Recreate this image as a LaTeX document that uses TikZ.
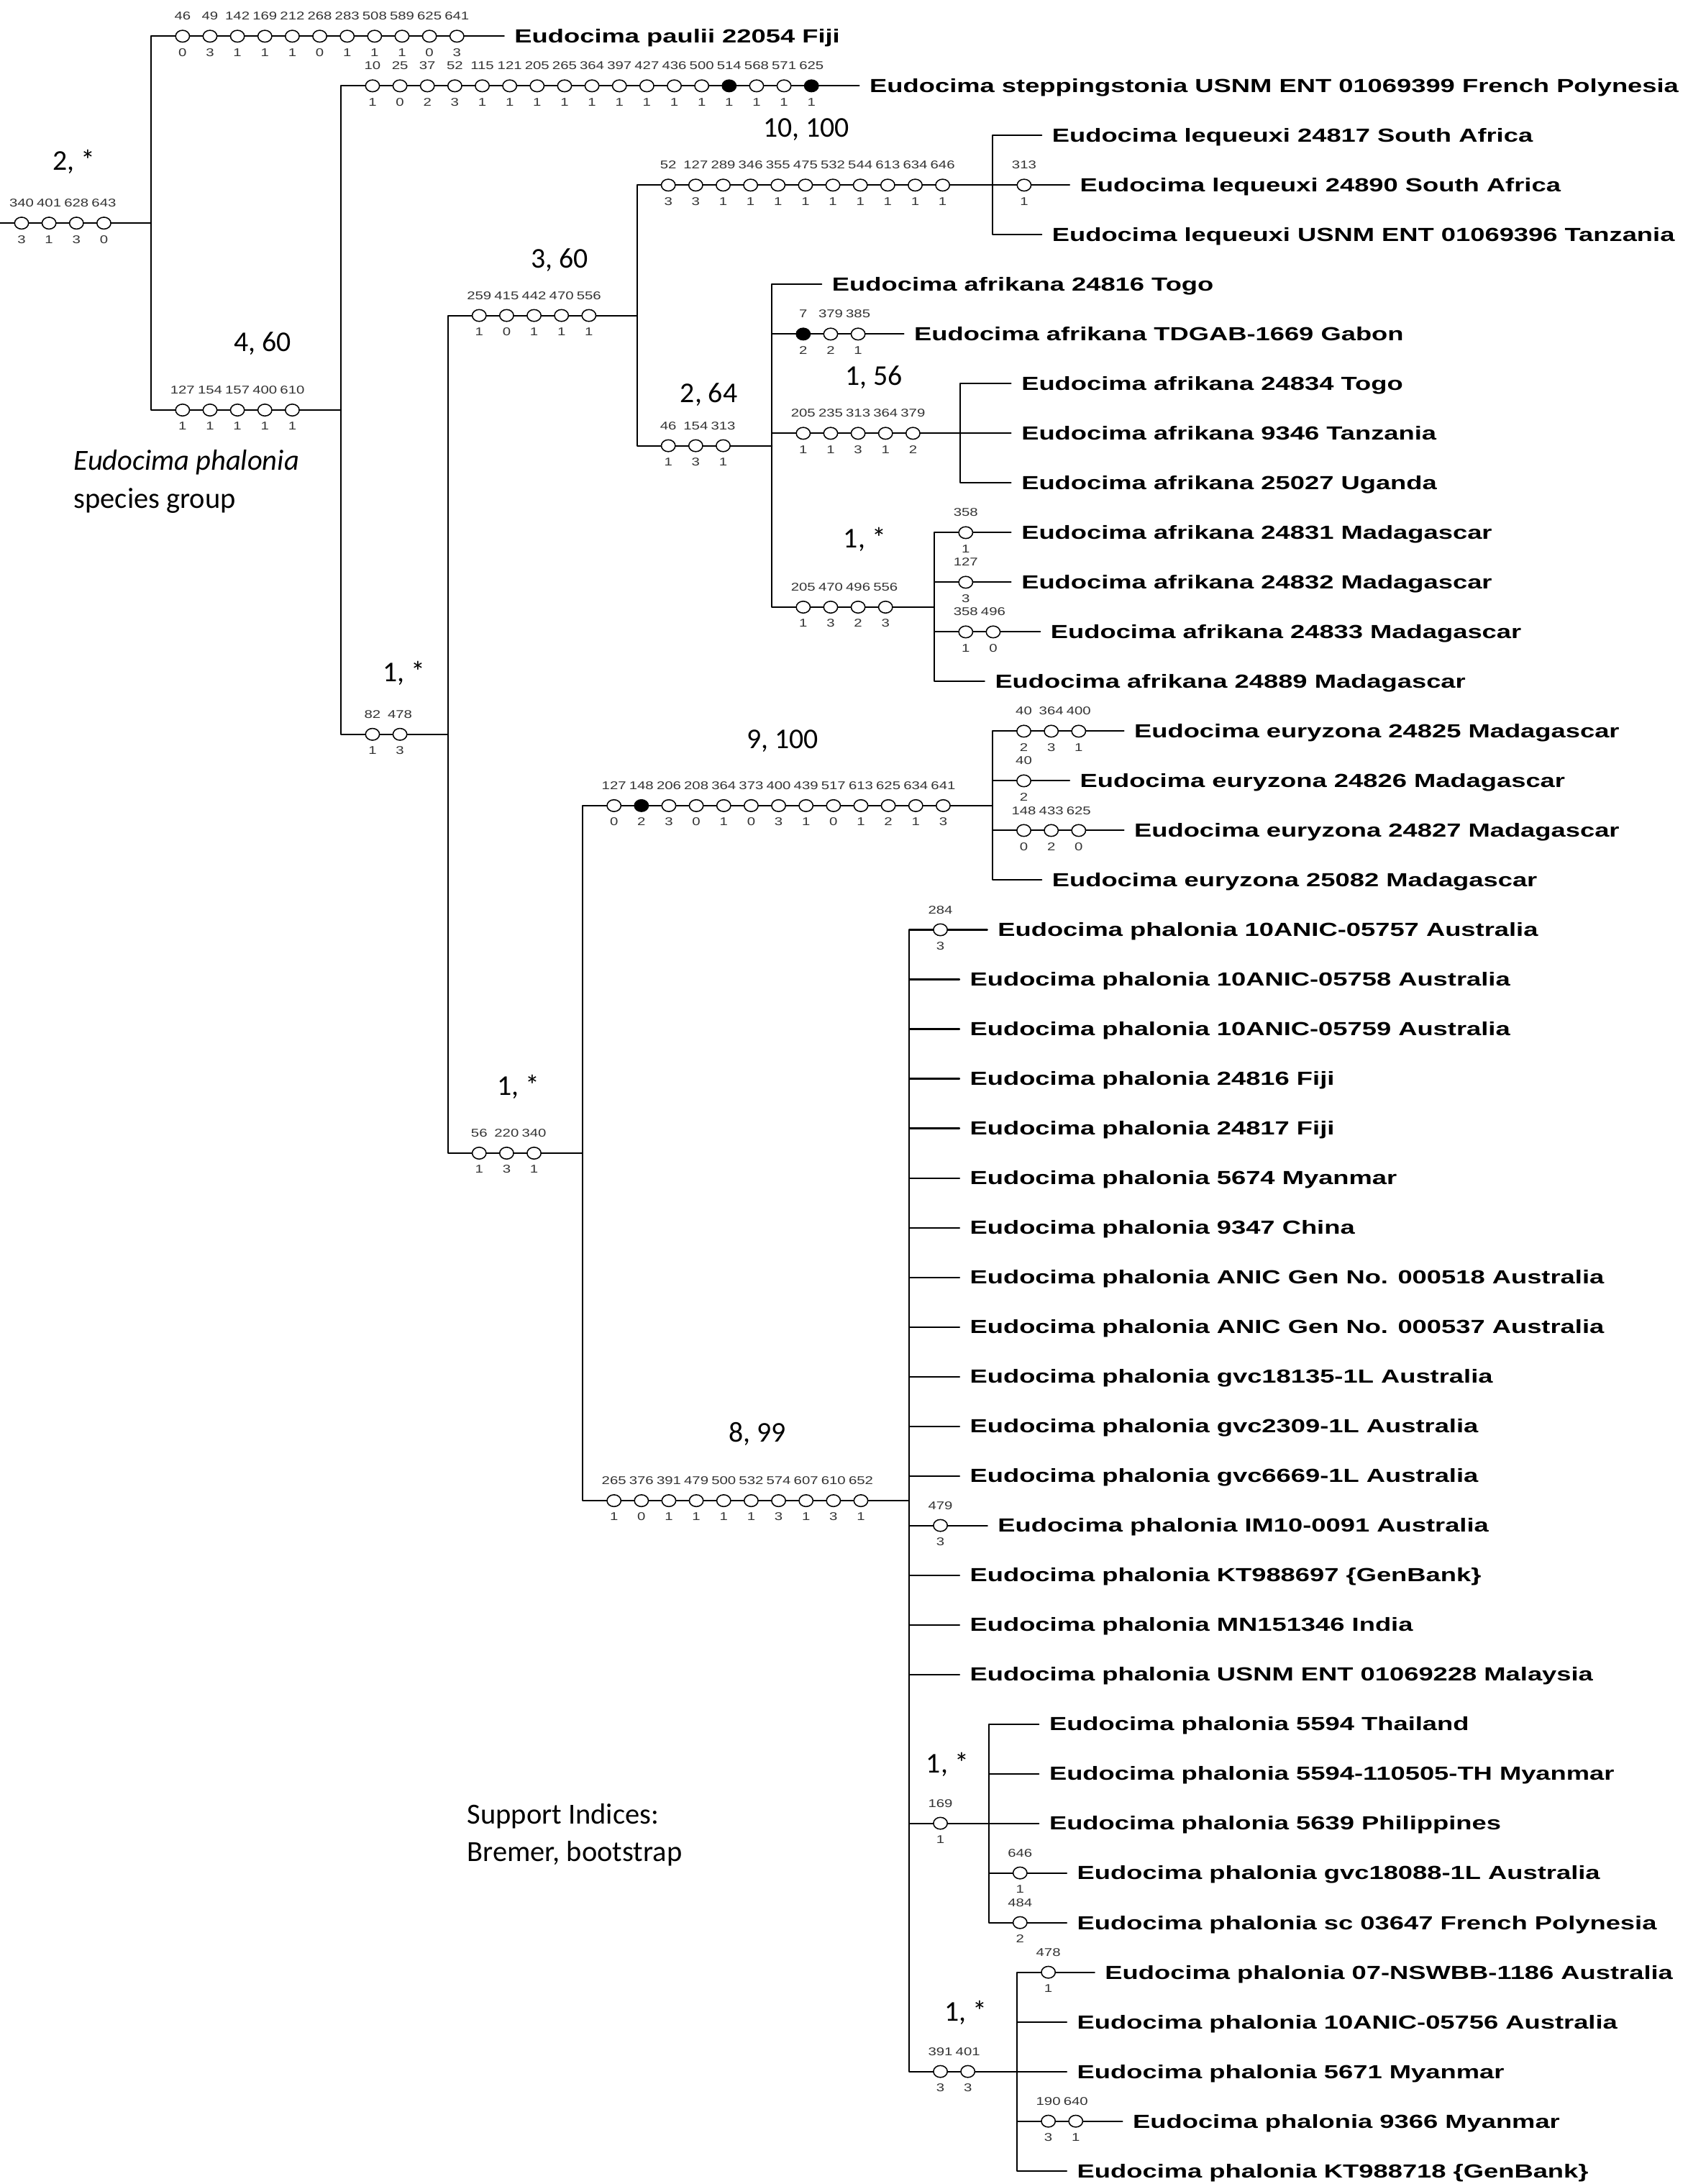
\documentclass[tikz,border=0pt]{standalone}
\usepackage{fontspec}
\usetikzlibrary{calc,shapes.geometric}
\newfontfamily\taxfont{Liberation Sans Bold}[FakeStretch=1.38]
\newfontfamily\chrfont{Liberation Sans}[FakeStretch=1.3]
\newfontfamily\calfont{Carlito}
% character changes along a branch: number/state/style
\newcommand\synap[3]{%
  \foreach \cnum/\cst/\csty [count=\ci from 0] in {#3}
    \path ($(#1 |- #2)+(22.5+19.7*\ci,0)$) node[\csty] (m) {}
      (m.center) +(0,-14.5) node[chr] {\cnum} +(0,11.5) node[chr] {\cst};}
\begin{document}
\begin{tikzpicture}[x=0.02cm, y=-0.02cm, line join=round, line cap=round, line width=0.6pt,
  taxon/.style={anchor=west, inner ysep=0pt, inner xsep=0.14cm, font=\taxfont\fontsize{7.74}{9}\selectfont, text height=5.5pt, text depth=0pt},
  oc/.style={ellipse, draw, fill=white, line width=0.45pt, minimum width=0.2cm, minimum height=0.17cm, inner sep=0pt},
  fc/.style={oc, fill=black},
  chr/.style={font=\chrfont\fontsize{4.6}{5}\selectfont, text=black!80, inner sep=0pt, text height=3.3pt, text depth=0pt},
  supp/.style={font=\calfont\fontsize{11.7}{13}\selectfont, inner sep=0pt, text height=7.4pt, text depth=0pt},
  note/.style={font=\calfont\fontsize{11.9}{13}\selectfont, anchor=west, inner sep=0pt, text height=7.6pt, text depth=0pt}]
\def\dy{35.64}
\clip (0,0) rectangle (1212,1568);
\path
(-7,160.2) coordinate (base)
(108.6,160.2) coordinate (n1)
(245,294.4) coordinate (n2)
(321.6,527.2) coordinate (n3)
(457.4,226.5) coordinate (n4)
(712.9,132.9) coordinate (n5)
(554.3,320.0) coordinate (n6)
(689.6,311.1) coordinate (n7)
(671,435.9) coordinate (n8)
(418.4,827.9) coordinate (n9)
(712.7,578.4) coordinate (n10)
(652.8,1077.4) coordinate (n11)
(710,1309.0) coordinate (n12)
(730.3,1487.2) coordinate (n13)
;
\draw (base) -- (n1);
\draw (n1) |- (n2); \draw (n2) |- (n3);
\draw (n3) |- (n4); \draw (n3) |- (n9);
\draw (n4) |- (n5); \draw (n4) |- (n6);
\draw (n6) |- (n7); \draw (n6) |- (n8);
\draw (n9) |- (n10); \draw (n9) |- (n11);
\draw (n11) |- (n12); \draw (n11) |- (n13);
\foreach \r/\x/\p/\txt in {
  0/362/n1/Eudocima paulii 22054 Fiji,
  1/617/n2/Eudocima steppingstonia USNM ENT 01069399 French Polynesia,
  2/748/n5/Eudocima lequeuxi 24817 South Africa,
  3/768/n5/Eudocima lequeuxi 24890 South Africa,
  4/748/n5/Eudocima lequeuxi USNM ENT 01069396 Tanzania,
  5/590/n6/Eudocima afrikana 24816 Togo,
  6/649/n6/Eudocima afrikana TDGAB-1669 Gabon,
  7/726/n7/Eudocima afrikana 24834 Togo,
  8/726/n7/Eudocima afrikana 9346 Tanzania,
  9/726/n7/Eudocima afrikana 25027 Uganda,
  10/726/n8/Eudocima afrikana 24831 Madagascar,
  11/726/n8/Eudocima afrikana 24832 Madagascar,
  12/747/n8/Eudocima afrikana 24833 Madagascar,
  13/707/n8/Eudocima afrikana 24889 Madagascar,
  14/807/n10/Eudocima euryzona 24825 Madagascar,
  15/768/n10/Eudocima euryzona 24826 Madagascar,
  16/807/n10/Eudocima euryzona 24827 Madagascar,
  17/748/n10/Eudocima euryzona 25082 Madagascar,
  18/709/n11/Eudocima phalonia 10ANIC-05757 Australia,
  19/689/n11/Eudocima phalonia 10ANIC-05758 Australia,
  20/689/n11/Eudocima phalonia 10ANIC-05759 Australia,
  21/689/n11/Eudocima phalonia 24816 Fiji,
  22/689/n11/Eudocima phalonia 24817 Fiji,
  23/689/n11/Eudocima phalonia 5674 Myanmar,
  24/689/n11/Eudocima phalonia 9347 China,
  25/689/n11/Eudocima phalonia ANIC Gen No. 000518 Australia,
  26/689/n11/Eudocima phalonia ANIC Gen No. 000537 Australia,
  27/689/n11/Eudocima phalonia gvc18135-1L Australia,
  28/689/n11/Eudocima phalonia gvc2309-1L Australia,
  29/689/n11/Eudocima phalonia gvc6669-1L Australia,
  30/709/n11/Eudocima phalonia IM10-0091 Australia,
  31/689/n11/Eudocima phalonia KT988697 \{GenBank\},
  32/689/n11/Eudocima phalonia MN151346 India,
  33/689/n11/Eudocima phalonia USNM ENT 01069228 Malaysia,
  34/746/n12/Eudocima phalonia 5594 Thailand,
  35/746/n12/Eudocima phalonia 5594-110505-TH Myanmar,
  36/746/n12/Eudocima phalonia 5639 Philippines,
  37/766/n12/Eudocima phalonia gvc18088-1L Australia,
  38/766/n12/Eudocima phalonia sc 03647 French Polynesia,
  39/786/n13/Eudocima phalonia 07-NSWBB-1186 Australia,
  40/766/n13/Eudocima phalonia 10ANIC-05756 Australia,
  41/766/n13/Eudocima phalonia 5671 Myanmar,
  42/806/n13/Eudocima phalonia 9366 Myanmar,
  43/766/n13/Eudocima phalonia KT988718 \{GenBank\}}
  {\node[taxon] (t\r) at (\x,26+\r*\dy) {\txt}; \draw (\p) |- (t\r.west);}
\synap{base}{n1}{340/3/oc,401/1/oc,628/3/oc,643/0/oc}
\synap{n1}{t0}{46/0/oc,49/3/oc,142/1/oc,169/1/oc,212/1/oc,268/0/oc,283/1/oc,508/1/oc,589/1/oc,625/0/oc,641/3/oc}
\synap{n1}{n2}{127/1/oc,154/1/oc,157/1/oc,400/1/oc,610/1/oc}
\synap{n2}{t1}{10/1/oc,25/0/oc,37/2/oc,52/3/oc,115/1/oc,121/1/oc,205/1/oc,265/1/oc,364/1/oc,397/1/oc,427/1/oc,436/1/oc,500/1/oc,514/1/fc,568/1/oc,571/1/oc,625/1/fc}
\synap{n2}{n3}{82/1/oc,478/3/oc}
\synap{n3}{n4}{259/1/oc,415/0/oc,442/1/oc,470/1/oc,556/1/oc}
\synap{n4}{n5}{52/3/oc,127/3/oc,289/1/oc,346/1/oc,355/1/oc,475/1/oc,532/1/oc,544/1/oc,613/1/oc,634/1/oc,646/1/oc}
\synap{n4}{n6}{46/1/oc,154/3/oc,313/1/oc}
\synap{n5}{t3}{313/1/oc}
\synap{n6}{t6}{7/2/fc,379/2/oc,385/1/oc}
\synap{n6}{n7}{205/1/oc,235/1/oc,313/3/oc,364/1/oc,379/2/oc}
\synap{n6}{n8}{205/1/oc,470/3/oc,496/2/oc,556/3/oc}
\synap{n8}{t10}{358/1/oc}
\synap{n8}{t11}{127/3/oc}
\synap{n8}{t12}{358/1/oc,496/0/oc}
\synap{n3}{n9}{56/1/oc,220/3/oc,340/1/oc}
\synap{n9}{n10}{127/0/oc,148/2/fc,206/3/oc,208/0/oc,364/1/oc,373/0/oc,400/3/oc,439/1/oc,517/0/oc,613/1/oc,625/2/oc,634/1/oc,641/3/oc}
\synap{n10}{t14}{40/2/oc,364/3/oc,400/1/oc}
\synap{n10}{t15}{40/2/oc}
\synap{n10}{t16}{148/0/oc,433/2/oc,625/0/oc}
\synap{n9}{n11}{265/1/oc,376/0/oc,391/1/oc,479/1/oc,500/1/oc,532/1/oc,574/3/oc,607/1/oc,610/3/oc,652/1/oc}
\synap{n11}{t18}{284/3/oc}
\synap{n11}{t30}{479/3/oc}
\synap{n11}{n12}{169/1/oc}
\synap{n12}{t37}{646/1/oc}
\synap{n12}{t38}{484/2/oc}
\synap{n11}{n13}{391/3/oc,401/3/oc}
\synap{n13}{t39}{478/1/oc}
\synap{n13}{t42}{190/3/oc,640/1/oc}
% Bremer, bootstrap
\node[supp] (s1) at (53,115.4) {2, *};
\node[supp] (s2) at (579,92) {10, 100};
\node[supp] (s3) at (402,186) {3, 60};
\node[supp] (s4) at (188.5,246) {4, 60};
\node[supp] (s5) at (509,282.4) {2, 64};
\node[supp] (s6) at (627.5,270.2) {1, 56};
\node[supp] (s7) at (621,387) {1, *};
\node[supp] (s8) at (290,483) {1, *};
\node[supp] (s9) at (562,531) {9, 100};
\node[supp] (s10) at (372.5,780) {1, *};
\node[supp] (s11) at (544,1029) {8, 99};
\node[supp] (s12) at (680.4,1266.4) {1, *};
\node[supp] (s13) at (693.6,1444.7) {1, *};
\node[note] (grp1) at (52.5,330.7) {\itshape Eudocima phalonia};
\node[note] (grp2) at (52.5,358) {species group};
\node[note] (key1) at (335,1303) {Support Indices:};
\node[note] (key2) at (335,1329.5) {Bremer, bootstrap};
\end{tikzpicture}
\end{document}
